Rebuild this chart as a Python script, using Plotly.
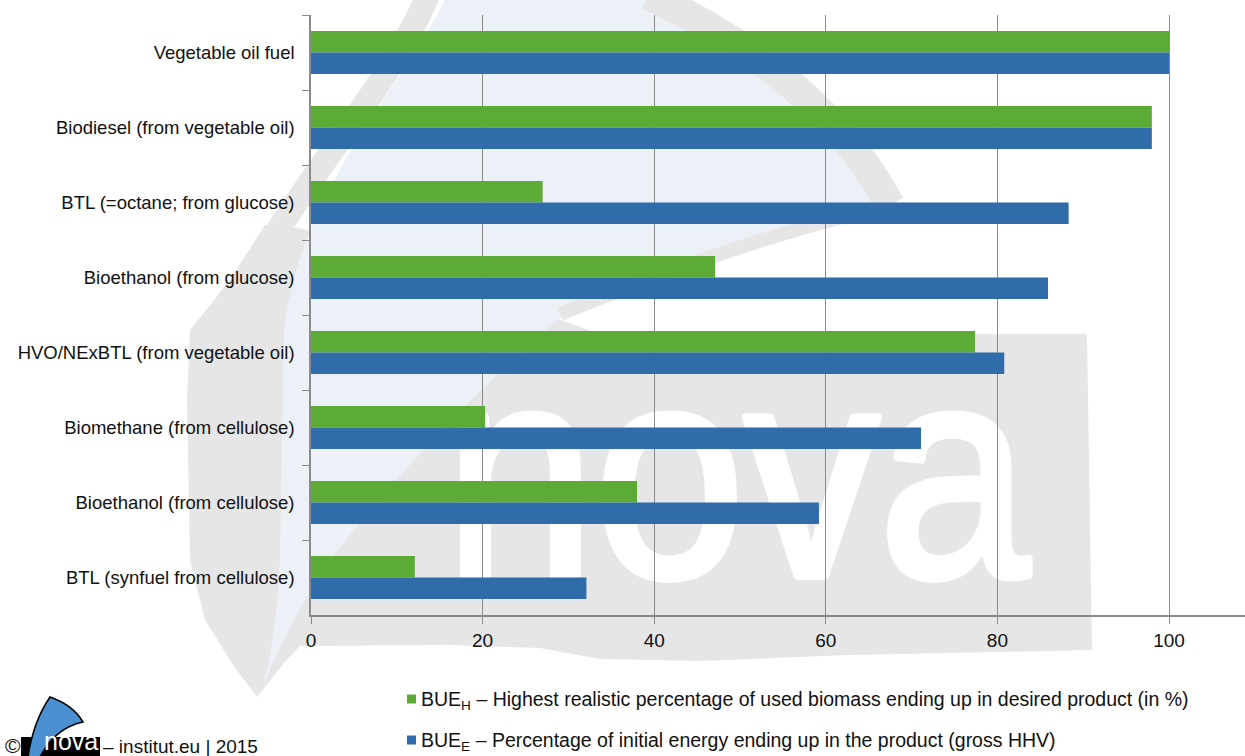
import base64
import plotly.graph_objects as go

# ---- data -----------------------------------------------------------------
categories = [
    "Vegetable oil fuel",
    "Biodiesel (from vegetable oil)",
    "BTL (=octane; from glucose)",
    "Bioethanol (from glucose)",
    "HVO/NExBTL (from vegetable oil)",
    "Biomethane (from cellulose)",
    "Bioethanol (from cellulose)",
    "BTL (synfuel from cellulose)",
]
bue_h = [100, 98, 27, 47.1, 77.4, 20.3, 38, 12.1]      # BUE_H (%)
bue_e = [100, 98, 88.3, 85.9, 80.8, 71.1, 59.2, 32.1]  # BUE_E (%)
x_ticks = [0, 20, 40, 60, 80, 100]
series_names = ["BUE_H", "BUE_E"]
legend_texts = [
    "BUE<sub>H</sub> – Highest realistic percentage of used biomass ending up in desired product (in %)",
    "BUE<sub>E</sub> – Percentage of initial energy ending up in the product (gross HHV)",
]
footer_text = "– institut.eu | 2015"

# ---- styling ----------------------------------------------------------------
W, H = 1245, 756
ML, MR, MT, MB = 311, 0, 15, 141
PW, PH = W - ML - MR, H - MT - MB
GREEN = "#5cab36"
BLUE = "#2f6ca9"
AXIS = "#8a8a8a"
FONT = "Liberation Sans, Arial, Helvetica, sans-serif"


def px(x):
    """window pixel x -> paper x"""
    return (x - ML) / PW


def py(y):
    """window pixel y -> paper y"""
    return (H - MB - y) / PH


# faint sail-and-wordmark watermark behind the plot
watermark_svg = f"""<svg xmlns="http://www.w3.org/2000/svg" width="{W}" height="{H}" viewBox="0 0 {W} {H}">
<path d="M265,225 L300,228 L600,334 L1087,334 L1092,650 L1000,652 L850,655 L700,661 L600,659 L540,648 L450,645 L300,646 L285,662 L257,697 L235,668 L205,620 L190,560 L187,400 L190,330 L230,280 Z" fill="#e6e6e6"/>
<path d="M445,0 C400,90 300,190 284,330 L280,560 Q276,640 263,685 Q290,620 330,560 Q440,420 560,318 Q700,255 887,205 Q800,70 660,0 Z" fill="#ecf1f8"/>
<path d="M428,-5 C395,75 320,160 272,240" fill="none" stroke="#e6e6e6" stroke-width="24"/>
<path d="M648,-5 Q820,75 890,205" fill="none" stroke="#e6e6e6" stroke-width="30"/>
<path d="M890,205 Q740,240 560,314" fill="none" stroke="#e6e6e6" stroke-width="14"/>
<text x="445" y="576" font-family="Liberation Sans, Arial, sans-serif" font-size="300" fill="#ffffff" stroke="#ffffff" stroke-width="8" stroke-linejoin="round" textLength="584" lengthAdjust="spacingAndGlyphs">nova</text>
</svg>"""
watermark_uri = "data:image/svg+xml;base64," + base64.b64encode(watermark_svg.encode("utf-8")).decode("ascii")

fig = go.Figure()
fig.add_trace(go.Bar(y=categories, x=bue_h, name=series_names[0], orientation="h",
                     marker=dict(color=GREEN, line=dict(width=0))))
fig.add_trace(go.Bar(y=categories, x=bue_e, name=series_names[1], orientation="h",
                     marker=dict(color=BLUE, line=dict(width=0))))

shapes = []
annotations = []

# legend (drawn by hand, stacked under the axis)
for i, (color, text) in enumerate(zip([GREEN, BLUE], legend_texts)):
    cy = 699 + 41 * i
    shapes.append(dict(type="rect", xref="paper", yref="paper",
                       x0=px(407), x1=px(416), y0=py(cy + 4.5), y1=py(cy - 4.5),
                       fillcolor=color, line=dict(width=0)))
    annotations.append(dict(text=text, xref="paper", yref="paper", x=px(419), y=py(cy + 1),
                            xanchor="left", yanchor="middle", showarrow=False,
                            font=dict(family=FONT, size=19.5, color="#111111")))

# footer logo: black plate, blue sail, white wordmark
shapes.append(dict(type="rect", xref="paper", yref="paper",
                   x0=px(21), x1=px(100), y0=py(758), y1=py(737),
                   fillcolor="#000000", line=dict(width=0)))
sail = (f"M {px(28)},{py(757)} Q {px(33)},{py(722)} {px(50)},{py(697)} "
        f"Q {px(73)},{py(705)} {px(83)},{py(722)} Q {px(55)},{py(728)} {px(40)},{py(757)} Z")
shapes.append(dict(type="path", xref="paper", yref="paper", path=sail,
                   fillcolor="#4a8fd0", line=dict(color="#000000", width=1.5)))
annotations.append(dict(text="nova", xref="paper", yref="paper", x=px(71), y=py(741),
                        xanchor="center", yanchor="middle", showarrow=False,
                        font=dict(family=FONT, size=25, color="#ffffff")))
annotations.append(dict(text="©", xref="paper", yref="paper", x=px(3), y=py(745),
                        xanchor="left", yanchor="middle", showarrow=False,
                        font=dict(family=FONT, size=21, color="#111111")))
annotations.append(dict(text=footer_text, xref="paper", yref="paper", x=px(101), y=py(746),
                        xanchor="left", yanchor="middle", showarrow=False,
                        font=dict(family=FONT, size=19, color="#111111")))

fig.update_layout(
    width=W, height=H, autosize=False,
    margin=dict(l=ML, r=MR, t=MT, b=MB, pad=0),
    paper_bgcolor="#ffffff",
    plot_bgcolor="rgba(0,0,0,0)",
    barmode="group", bargap=0.427, bargroupgap=0,
    showlegend=False,
    font=dict(family=FONT, color="#111111"),
    shapes=shapes,
    annotations=annotations,
    images=[dict(source=watermark_uri, xref="paper", yref="paper",
                 x=px(0), y=py(0), sizex=W / PW, sizey=H / PH,
                 xanchor="left", yanchor="top", sizing="stretch", layer="below")],
)
fig.update_xaxes(
    range=[0, (W - ML) / (1169 - ML) * 100], tickvals=x_ticks,
    showgrid=True, gridcolor=AXIS, gridwidth=1.3, zeroline=False,
    showline=True, linecolor=AXIS, linewidth=1.5,
    ticks="outside", ticklen=7, tickcolor=AXIS, tickwidth=1.3,
    tickfont=dict(family=FONT, size=19, color="#111111"),
)
fig.update_yaxes(
    type="category", autorange="reversed",
    showgrid=False, zeroline=False,
    showline=True, linecolor=AXIS, linewidth=1.5,
    ticks="outside", tickson="boundaries", ticklen=7, tickcolor=AXIS, tickwidth=1.3,
    tickfont=dict(family=FONT, size=18.5, color="#111111"),
    ticklabelstandoff=11,
)

fig.write_html("out.html")
